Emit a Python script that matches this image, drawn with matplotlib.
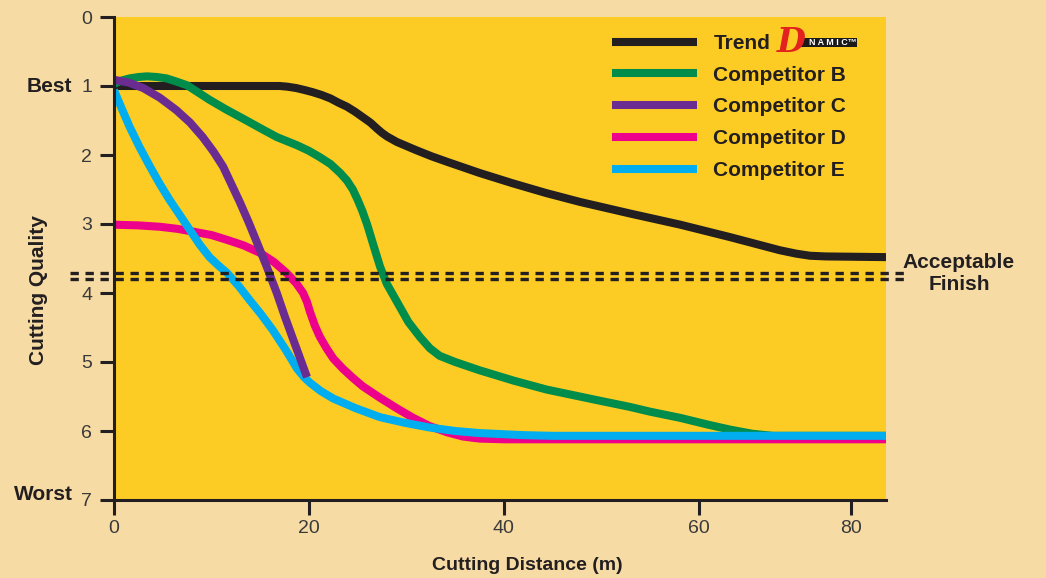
import matplotlib
matplotlib.use("Agg")
import matplotlib.pyplot as plt
import matplotlib.transforms as mtransforms
from matplotlib.patches import Rectangle

# Dados (distância em m, qualidade 0 = topo, 7 = pior)
trend_x = [0, 17, 17.8, 18.7, 19.6, 20.4, 21.3, 22.2, 23.0, 23.9, 24.7, 25.5, 26.3,
           27.0, 27.5, 28.0, 29.0, 30.0, 31.0, 32.6, 34.2, 37.5, 40.9, 44.3, 47.8,
           53.0, 58.1, 63.2, 68.3, 70.0, 71.4, 73.0, 79.2]
trend_y = [1.0, 1.0, 1.01, 1.03, 1.06, 1.09, 1.13, 1.18, 1.24, 1.30, 1.37, 1.45, 1.53,
           1.62, 1.68, 1.73, 1.81, 1.87, 1.93, 2.02, 2.10, 2.26, 2.41, 2.55, 2.68,
           2.85, 3.01, 3.19, 3.38, 3.43, 3.46, 3.47, 3.48]

comp_b_x = [0, 0.8, 1.6, 2.5, 3.4, 4.4, 5.4, 6.5, 7.5, 8.6, 9.8, 11.5, 13.2, 15.0,
            16.7, 18.8, 20.0, 21.1, 22.2, 23.2, 23.9, 24.5, 25.0, 25.5, 26.0, 26.6,
            27.3, 28.0, 29.0, 30.2, 31.4, 32.4, 33.4, 35.0, 37.5, 41.0, 44.4, 49.8,
            52.9, 55.0, 58.1, 61.0, 63.2, 65.5, 67.6, 79.2]
comp_b_y = [0.97, 0.92, 0.89, 0.87, 0.86, 0.87, 0.89, 0.94, 0.99, 1.09, 1.20, 1.34,
            1.47, 1.61, 1.74, 1.86, 1.94, 2.03, 2.13, 2.26, 2.37, 2.50, 2.65, 2.82,
            3.02, 3.30, 3.62, 3.87, 4.12, 4.42, 4.64, 4.80, 4.91, 5.00, 5.12, 5.27,
            5.40, 5.56, 5.65, 5.72, 5.81, 5.91, 5.98, 6.04, 6.07, 6.07]

comp_c_x = [0, 1.5, 3.0, 4.7, 6.4, 7.8, 9.1, 10.2, 11.2, 12.0, 12.9, 13.8, 14.7,
            15.7, 16.7, 17.5, 18.4, 19.1, 19.8]
comp_c_y = [0.91, 0.95, 1.03, 1.17, 1.35, 1.53, 1.74, 1.95, 2.17, 2.41, 2.68, 2.97,
            3.28, 3.63, 4.00, 4.33, 4.68, 4.95, 5.22]

comp_d_x = [0, 2.5, 4.7, 6.5, 8.1, 10.0, 11.6, 13.3, 15.0, 16.4, 17.7, 18.7, 19.4,
            19.8, 20.1, 20.6, 21.1, 21.8, 22.5, 23.5, 24.5, 25.5, 27.3, 29.0, 30.7,
            32.4, 34.2, 35.8, 37.5, 40.0, 79.2]
comp_d_y = [3.01, 3.02, 3.04, 3.07, 3.11, 3.16, 3.23, 3.31, 3.42, 3.55, 3.71, 3.86,
            4.00, 4.13, 4.27, 4.47, 4.63, 4.80, 4.95, 5.10, 5.23, 5.35, 5.52, 5.67,
            5.81, 5.93, 6.02, 6.08, 6.11, 6.12, 6.12]

comp_e_x = [0, 0.8, 1.6, 2.6, 3.7, 4.7, 5.7, 6.8, 7.8, 8.8, 9.8, 10.7, 11.6, 12.8,
            13.9, 15.1, 16.3, 17.6, 18.8, 19.5, 20.1, 21.2, 22.5, 24.8, 27.3, 29.8,
            32.4, 35.0, 37.5, 42.0, 45.0, 79.2]
comp_e_y = [1.06, 1.33, 1.59, 1.88, 2.17, 2.42, 2.65, 2.88, 3.09, 3.30, 3.48, 3.60,
            3.71, 3.90, 4.10, 4.31, 4.54, 4.82, 5.10, 5.22, 5.30, 5.42, 5.53, 5.67,
            5.80, 5.88, 5.95, 6.00, 6.03, 6.06, 6.07, 6.07]

acceptable_y = [3.71, 3.80]

y_ticks = [0, 1, 2, 3, 4, 5, 6, 7]
x_tick_pos = [0, 20, 40, 60, 75.6]      # o "80" do original não fica na escala
x_tick_labels = ["0", "20", "40", "60", "80"]

DARK = "#231f20"
YELLOW = "#fccc24"
PAPER = "#f7dba5"

plt.rcParams["font.family"] = ["Liberation Sans", "DejaVu Sans"]

fig = plt.figure(figsize=(10.46, 5.78), dpi=100, facecolor=PAPER)
ax = fig.add_axes([114 / 1046, 1 - 500 / 578, 772 / 1046, 483 / 578])
ax.set_facecolor(YELLOW)

style = dict(lw=5.8, solid_capstyle="butt", solid_joinstyle="round")
ax.plot(trend_x, trend_y, color=DARK, zorder=2, label="Trend", **style)
ax.plot(comp_b_x, comp_b_y, color="#008c4a", zorder=3, label="Competitor B", **style)
ax.plot(comp_c_x, comp_c_y, color="#6a2c91", zorder=6, label="Competitor C", **style)
ax.plot(comp_d_x, comp_d_y, color="#ec008c", zorder=4, label="Competitor D", **style)
ax.plot(comp_e_x, comp_e_y, color="#00aeef", zorder=5, label="Competitor E", **style)

# linha dupla tracejada "Acceptable Finish"
for yv in acceptable_y:
    ax.axhline(yv, xmin=-0.057, xmax=1.031, color=DARK, lw=2.4,
               dashes=(2.5, 2.0), dash_capstyle="butt", clip_on=False, zorder=7)

ax.set_xlim(0, 79.2)
ax.set_ylim(7, 0)
ax.set_yticks(y_ticks)
ax.set_xticks(x_tick_pos)
ax.set_xticklabels(x_tick_labels)

for side in ["top", "right"]:
    ax.spines[side].set_visible(False)
for side in ["left", "bottom"]:
    ax.spines[side].set_color(DARK)
    ax.spines[side].set_linewidth(2.2)
    ax.spines[side].set_zorder(8)

ax.tick_params(axis="y", length=10, width=2.2, color=DARK, pad=5.8,
               labelsize=14, labelcolor="#3a3a3a")
ax.tick_params(axis="x", length=11, width=2.2, color=DARK, pad=3.6,
               labelsize=14, labelcolor="#3a3a3a")

leg = ax.legend(loc="upper left", bbox_to_anchor=(612 / 1046, 1 - 34 / 578),
                bbox_transform=fig.transFigure, frameon=False, borderpad=0,
                borderaxespad=0, handlelength=4.1, handletextpad=0.77,
                labelspacing=0.61, prop={"size": 15, "weight": "bold"})
for t in leg.get_texts():
    t.set_color(DARK)

# logotipo "Dynamic" ao lado de Trend
fig.patches.append(Rectangle((801 / 1046, 1 - 47 / 578), 56 / 1046, 9 / 578,
                             transform=fig.transFigure, facecolor="#1a1a1a",
                             edgecolor="none", zorder=9))
fig.text(809 / 1046, 1 - 42.8 / 578, "N A M I C\u2122", fontsize=6.5, color="white",
         ha="left", va="center", fontweight="bold", zorder=10)
fig.text(791 / 1046, 1 - 42 / 578, "D", fontsize=24, color="#e3211e",
         family="DejaVu Serif", style="italic", fontweight="bold",
         ha="center", va="center", zorder=11)

tr = mtransforms.blended_transform_factory(fig.transFigure, ax.transData)
ax.text(72 / 1046, 1, "Best", transform=tr, ha="right", va="center",
        fontsize=15, fontweight="bold", color=DARK, clip_on=False)
ax.text(73 / 1046, 6.92, "Worst", transform=tr, ha="right", va="center",
        fontsize=15, fontweight="bold", color=DARK, clip_on=False)

fig.text(38 / 1046, 1 - 290 / 578, "Cutting Quality", rotation=90, ha="center",
         va="center", fontsize=15, fontweight="bold", color=DARK)
fig.text(527 / 1046, 1 - 566 / 578, "Cutting Distance (m)", ha="center",
         va="center", fontsize=14, fontweight="bold", color=DARK)
fig.text(959 / 1046, 1 - 273.5 / 578, "Acceptable\nFinish", ha="center",
         va="center", fontsize=15, fontweight="bold", color=DARK)

fig.savefig("out.png", dpi=100, facecolor=PAPER)
